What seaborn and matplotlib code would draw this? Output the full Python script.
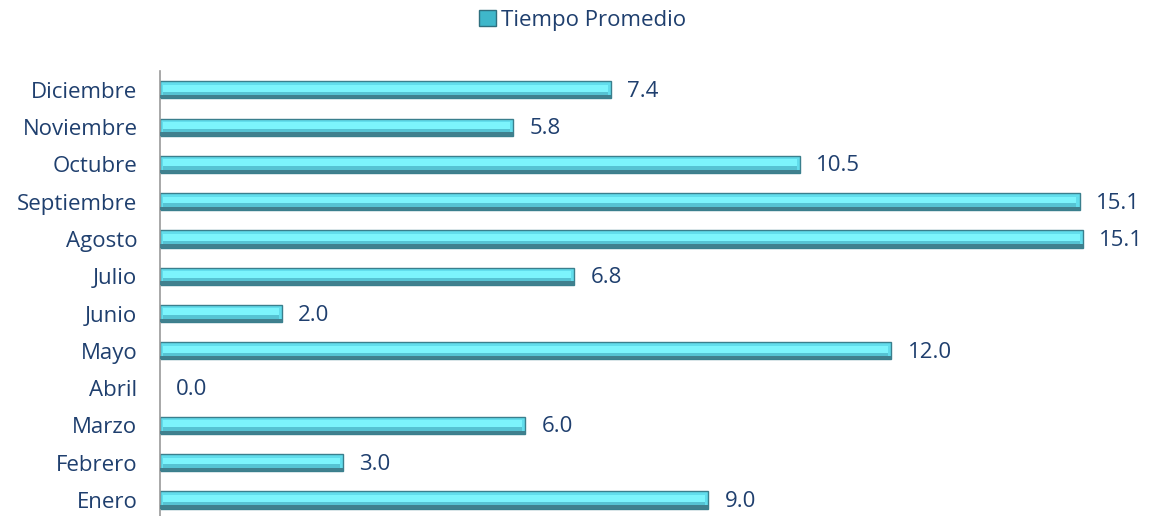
import pandas as pd
import matplotlib.pyplot as plt
import seaborn as sns
from matplotlib.patches import Patch

meses = ["Enero", "Febrero", "Marzo", "Abril", "Mayo", "Junio",
         "Julio", "Agosto", "Septiembre", "Octubre", "Noviembre", "Diciembre"]
tiempo = [9.0, 3.0, 6.0, 0.0, 12.0, 2.0, 6.8, 15.14, 15.09, 10.5, 5.8, 7.4]
serie = "Tiempo Promedio"

df = pd.DataFrame({"mes": meses, "tiempo": tiempo})
orden = meses[::-1]

sns.set_style("white")
plt.rcParams["font.family"] = ["Open Sans", "DejaVu Sans"]
azul = "#1F3F6E"

fig = plt.figure(figsize=(11.49, 5.16), dpi=100)
ax = fig.add_axes([0.139, -0.005, 0.861, 0.867])

sns.barplot(data=df, x="tiempo", y="mes", order=orden, orient="h",
            color="#62DDEC", edgecolor="#3A7F8D", linewidth=1.0,
            width=0.46, saturation=1, ax=ax)

# brillo superior y sombra inferior para imitar el bisel
for p in list(ax.patches):
    if p.get_width() <= 0:
        p.set_visible(False)
        continue
    x, y = p.get_x(), p.get_y()
    w, h = p.get_width(), p.get_height()
    ax.add_patch(plt.Rectangle((x + 0.05, y + h * 0.2), max(w - 0.1, 0), h * 0.4,
                               facecolor="#7CF4FC", edgecolor="none", zorder=3))
    ax.add_patch(plt.Rectangle((x + 0.05, y + h * 0.6), max(w - 0.1, 0), h * 0.2,
                               facecolor="#56C3D3", edgecolor="none", zorder=3))
    ax.add_patch(plt.Rectangle((x, y + h * 0.8), w, h * 0.2,
                               facecolor="#40808E", edgecolor="none", zorder=3))

for i, m in enumerate(orden):
    v = df.loc[df["mes"] == m, "tiempo"].iloc[0]
    ax.text(v + 0.27, i + 0.04, f"{v:.1f}", va="center", ha="left",
            fontsize=16, color=azul)

ax.set_xlim(0, 16.23)
ax.set_ylim(11.5, -0.5)
ax.set_xlabel("")
ax.set_ylabel("")
ax.set_xticks([])
ax.tick_params(axis="y", labelsize=16, labelcolor=azul, length=0, pad=16)
for s in ["top", "right", "bottom"]:
    ax.spines[s].set_visible(False)
ax.spines["left"].set_color("#9A9A9A")
ax.spines["left"].set_linewidth(1.2)

leg = fig.legend(handles=[Patch(facecolor="#3FB7CA", edgecolor="#2F6F7E", label=serie)],
                 loc="center", bbox_to_anchor=(0.507, 0.961), frameon=False,
                 fontsize=16, handlelength=0.75, handleheight=0.75, handletextpad=0.25)
for t in leg.get_texts():
    t.set_color(azul)

fig.savefig("out.png", dpi=100)
